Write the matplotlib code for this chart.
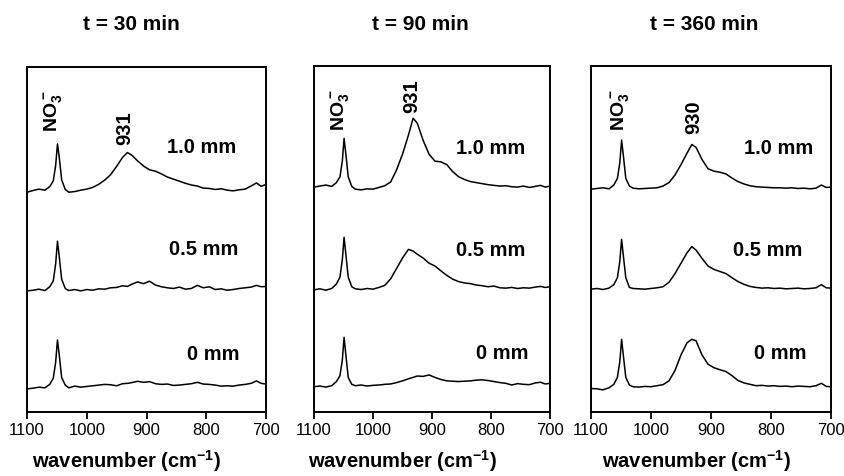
import numpy as np
import matplotlib
matplotlib.use("Agg")
import matplotlib.pyplot as plt

plt.rcParams['font.family'] = ['Liberation Sans', 'DejaVu Sans']
plt.rcParams['mathtext.fontset'] = 'custom'
plt.rcParams['mathtext.rm'] = 'Liberation Sans'
plt.rcParams['mathtext.bf'] = 'Liberation Sans:bold'

# wavenumber grid (cm-1), denser around the nitrate band
wavenumber = [1100, 1090, 1080, 1070, 1062, 1056, 1052, 1049, 1046, 1042, 1036, 1030,
              1020, 1010, 1000, 990, 980, 970, 960, 950, 940, 932, 925, 915, 905, 895,
              885, 875, 865, 855, 845, 835, 825, 815, 805, 795, 785, 775, 765, 755,
              745, 735, 725, 716, 708, 700]

# t = 30 min (stacked, arbitrary units)
t30_10 = [63.7, 64.2, 64.6, 64.3, 65.3, 67.0, 71.5, 77.7, 73.8, 67.3, 64.5, 63.7,
          63.9, 64.3, 64.6, 65.1, 66.0, 67.2, 68.8, 71.2, 73.8, 75.2, 74.5, 72.8, 71.3, 70.2,
          69.8, 69.0, 68.1, 67.5, 66.9, 66.3, 65.8, 65.5, 64.9, 64.8, 64.5, 64.7, 64.3, 64.1,
          64.4, 64.6, 65.5, 66.4, 65.4, 66.0]
t30_05 = [35.1, 35.3, 35.6, 35.2, 36.3, 38.0, 43.0, 49.5, 45.0, 38.5, 35.8, 35.2,
          35.5, 35.1, 35.5, 35.3, 35.7, 35.6, 36.0, 36.1, 36.6, 36.4, 37.0, 37.7, 37.2, 37.9,
          36.8, 36.3, 36.0, 35.8, 36.2, 35.6, 35.8, 36.7, 36.0, 36.3, 35.5, 35.7, 35.3, 35.5,
          35.8, 36.0, 36.2, 36.7, 36.3, 36.4]
t30_00 = [6.7, 6.9, 7.2, 7.0, 8.0, 9.8, 14.5, 20.9, 16.5, 10.0, 7.8, 7.0,
          7.5, 7.2, 7.4, 7.6, 7.8, 8.0, 7.9, 7.6, 8.2, 8.3, 8.5, 8.9, 8.6, 8.8,
          8.2, 8.0, 8.1, 7.7, 7.8, 8.0, 8.2, 8.6, 8.1, 8.0, 7.8, 7.5, 7.6, 7.5,
          7.8, 8.0, 8.3, 9.0, 8.3, 8.1]

# t = 90 min
t90_10 = [65.0, 65.3, 65.6, 65.2, 66.3, 68.0, 72.5, 79.1, 74.5, 68.0, 65.2, 64.4,
          64.2, 64.5, 64.4, 64.9, 65.4, 66.5, 70.0, 74.5, 80.0, 84.9, 83.5, 78.5, 74.5, 72.5,
          72.3, 71.5, 69.5, 68.0, 67.2, 66.6, 66.3, 66.0, 65.7, 65.5, 65.3, 65.4, 65.1, 65.0,
          65.3, 64.9, 65.2, 65.5, 65.0, 65.3]
t90_05 = [35.3, 35.6, 35.2, 35.7, 37.0, 39.0, 44.0, 50.5, 45.5, 39.0, 36.2, 35.6,
          35.4, 35.7, 35.5, 36.0, 36.6, 38.5, 41.5, 44.5, 47.0, 46.5, 45.6, 44.5, 43.0, 42.2,
          40.8, 39.5, 38.4, 37.7, 37.3, 37.1, 36.7, 36.5, 36.2, 36.4, 35.9, 35.8, 36.0, 35.7,
          35.9, 35.8, 36.1, 36.3, 36.0, 36.2]
t90_00 = [7.3, 7.5, 7.2, 7.6, 8.8, 10.5, 15.0, 21.6, 16.5, 10.0, 8.0, 7.6,
          7.8, 7.5, 7.7, 7.8, 8.0, 8.1, 8.5, 9.0, 9.6, 10.0, 10.4, 10.3, 10.7, 10.0,
          9.4, 9.0, 8.9, 8.8, 8.9, 9.0, 9.2, 9.3, 9.1, 8.8, 8.5, 8.3, 7.8, 8.2,
          8.0, 7.9, 8.4, 8.6, 8.1, 8.3]

# t = 360 min
t360_10 = [64.4, 64.6, 64.8, 64.5, 65.6, 67.5, 72.0, 78.6, 74.0, 67.5, 65.3, 64.7,
           64.5, 64.6, 64.7, 64.8, 65.3, 66.3, 68.5, 71.5, 74.8, 77.3, 76.5, 73.0, 70.3, 69.6,
           69.3, 68.8, 67.6, 66.6, 65.9, 65.4, 65.1, 65.0, 64.9, 64.8, 64.8, 64.7, 64.8, 64.6,
           64.7, 64.5, 64.7, 65.6, 64.9, 65.0]
t360_05 = [35.5, 35.7, 35.4, 35.8, 36.8, 38.8, 43.5, 49.9, 45.0, 38.8, 36.0, 35.7,
           35.6, 35.5, 35.7, 35.9, 36.2, 37.5, 40.0, 43.0, 46.0, 47.8, 46.8, 44.4, 42.2, 41.2,
           40.6, 40.0, 38.8, 37.7, 36.9, 36.3, 36.0, 35.8, 35.9, 35.7, 35.8, 35.6, 35.7, 35.8,
           35.6, 35.7, 35.9, 36.8, 35.9, 35.8]
t360_00 = [6.8, 6.7, 6.4, 7.0, 8.0, 10.0, 14.5, 21.0, 16.2, 10.0, 7.8, 7.3,
           7.2, 7.4, 7.3, 7.6, 7.9, 9.0, 12.0, 16.5, 20.0, 21.0, 20.6, 16.5, 13.8, 12.8,
           12.2, 11.7, 10.5, 9.1, 8.4, 8.0, 7.6, 7.7, 7.5, 7.6, 7.4, 7.5, 7.3, 7.5,
           7.4, 7.3, 7.6, 8.3, 7.4, 7.3]

titles = ["t = 30 min", "t = 90 min", "t = 360 min"]
thickness_labels = ["1.0 mm", "0.5 mm", "0 mm"]
peak_labels = ["931", "931", "930"]
xticks = [1100, 1000, 900, 800, 700]

panels = [
    [t30_10, t30_05, t30_00],
    [t90_10, t90_05, t90_00],
    [t360_10, t360_05, t360_00],
]

# layout (figure fractions) and annotation placement per panel
ax_rects = [
    [27 / 845, 64 / 476, 239 / 845, 345 / 476],
    [314 / 845, 64 / 476, 236 / 845, 346 / 476],
    [591 / 845, 64 / 476, 240 / 845, 346 / 476],
]
title_x = [131 / 845, 420 / 845, 704 / 845]
xlabel_x = [127 / 845, 403 / 845, 697 / 845]
label_pos = [
    [(749, 76.8), (747, 47.0), (744, 16.8)],
    [(742, 76.3), (742, 46.7), (737, 17.0)],
    [(730, 76.3), (747, 46.8), (740, 17.0)],
]
no3_pos = [(1056, 81.2), (1056, 81.2), (1052, 81.2)]
peak_pos = [(936, 77.4), (934, 86.5), (929.5, 80.3)]

fig = plt.figure(figsize=(8.45, 4.76), dpi=100)

for i, spectra in enumerate(panels):
    ax = fig.add_axes(ax_rects[i])
    for spec in spectra:
        ax.plot(wavenumber, spec, color='black', linewidth=1.1)
    ax.set_xlim(1100, 700)
    ax.set_ylim(0, 100)
    ax.set_xticks(xticks)
    ax.set_xticklabels([str(t) for t in xticks], fontsize=12)
    ax.set_yticks([])
    ax.tick_params(axis='x', direction='out', length=5, width=1.3, pad=3)
    for sp in ax.spines.values():
        sp.set_linewidth(1.4)

    for lab, (lx, ly) in zip(thickness_labels, label_pos[i]):
        ax.text(lx, ly, lab, ha='right', va='center', fontsize=14.5, fontweight='bold')

    ax.text(no3_pos[i][0], no3_pos[i][1], r'$\mathbf{NO_3^-}$', rotation=90,
            ha='center', va='bottom', fontsize=14)
    ax.text(peak_pos[i][0], peak_pos[i][1], peak_labels[i], rotation=90,
            ha='center', va='bottom', fontsize=14.5, fontweight='bold')

    fig.text(title_x[i], 1 - 24 / 476, titles[i], ha='center', va='center',
             fontsize=15, fontweight='bold')
    fig.text(xlabel_x[i], 1 - 461 / 476, r'wavenumber (cm$^{\mathbf{-1}}$)',
             ha='center', va='center', fontsize=14.5, fontweight='bold')

fig.savefig("out.png", dpi=100)
